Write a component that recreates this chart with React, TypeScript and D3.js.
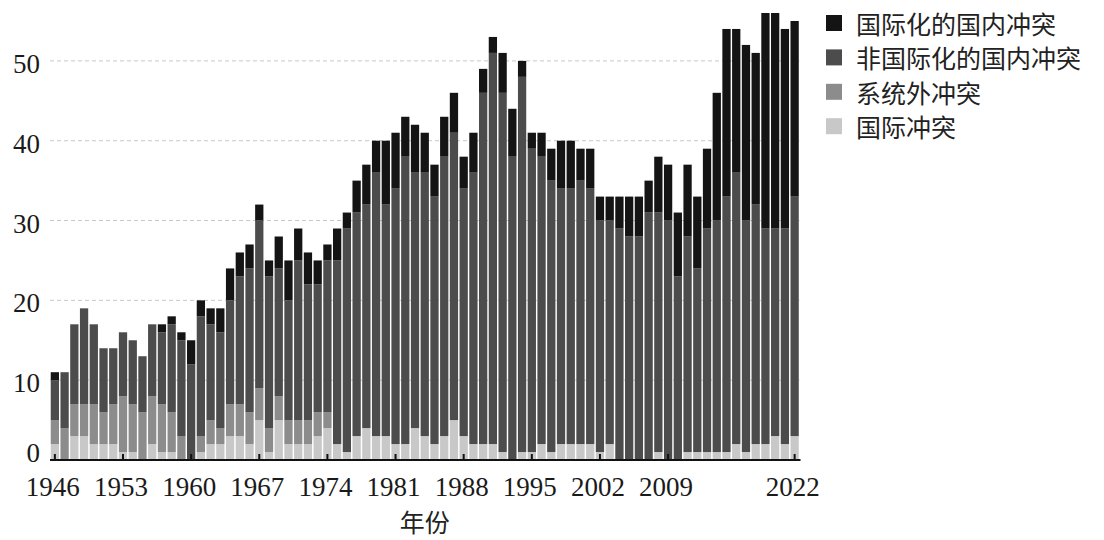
import React from "react";
import * as d3 from "d3";

const years: number[] = d3.range(1946, 2023);

// 国际冲突
const interstate: number[] = [
  2, 0, 3, 3, 2, 2, 2, 1, 1, 0, 2, 1, 1, 0, 0, 1, 2, 2, 3, 3,
  2, 5, 1, 5, 2, 2, 2, 3, 4, 2, 1, 3, 4, 3, 3, 2, 2, 4, 3, 2,
  3, 5, 3, 2, 2, 2, 1, 0, 1, 1, 2, 1, 2, 2, 2, 2, 1, 2, 0, 0,
  0, 0, 1, 0, 0, 1, 1, 1, 1, 1, 2, 1, 2, 2, 3, 2, 3,
];
// 系统外冲突
const extrasystemic: number[] = [
  3, 4, 4, 4, 5, 4, 5, 7, 6, 6, 6, 6, 5, 3, 0, 2, 3, 2, 4, 4,
  4, 4, 3, 3, 3, 3, 3, 3, 2, 0, 0, 0, 0, 0, 0, 0, 0, 0, 0, 0,
  0, 0, 0, 0, 0, 0, 0, 0, 0, 0, 0, 0, 0, 0, 0, 0, 0, 0, 0, 0,
  0, 0, 0, 0, 0, 0, 0, 0, 0, 0, 0, 0, 0, 0, 0, 0, 0,
];
// 非国际化的国内冲突
const internal: number[] = [
  5, 7, 10, 12, 10, 8, 7, 8, 8, 7, 9, 9, 11, 12, 12, 15, 12, 12, 13, 16,
  18, 21, 19, 16, 15, 20, 17, 16, 19, 23, 28, 28, 28, 33, 29, 32, 36, 32, 33, 31,
  35, 36, 31, 34, 44, 49, 45, 38, 47, 38, 36, 34, 32, 32, 33, 32, 29, 28, 29, 28,
  28, 31, 30, 30, 23, 27, 23, 28, 29, 32, 34, 29, 30, 27, 26, 27, 30,
];
// 国际化的国内冲突
const internationalized: number[] = [
  1, 0, 0, 0, 0, 0, 0, 0, 0, 0, 0, 1, 1, 1, 3, 2, 2, 3, 4, 3,
  3, 2, 2, 4, 5, 4, 4, 3, 2, 4, 2, 4, 5, 4, 8, 7, 5, 6, 5, 4,
  5, 5, 4, 5, 3, 2, 5, 6, 2, 2, 3, 4, 6, 6, 4, 5, 3, 3, 4, 5,
  5, 4, 7, 7, 8, 9, 9, 10, 16, 21, 18, 22, 19, 27, 27, 25, 22,
];

const seriesKeys = ["interstate", "extrasystemic", "internal", "internationalized"];
const seriesLabels: Record<string, string> = {
  internationalized: "国际化的国内冲突",
  internal: "非国际化的国内冲突",
  extrasystemic: "系统外冲突",
  interstate: "国际冲突",
};
const seriesColors: Record<string, string> = {
  internationalized: "#141414",
  internal: "#4c4c4c",
  extrasystemic: "#8c8c8c",
  interstate: "#c8c8c8",
};
const legendOrder = ["internationalized", "internal", "extrasystemic", "interstate"];

const yTicks: number[] = [0, 10, 20, 30, 40, 50];
const xTickYears: number[] = [1946, 1953, 1960, 1967, 1974, 1981, 1988, 1995, 2002, 2009, 2022];
const xTitle = "年份";

const serif = "'Liberation Serif', 'DejaVu Serif', serif";
const cjk = "'Noto Sans CJK SC', 'Noto Sans', sans-serif";

export default function App() {
  const width = 1104;
  const height = 540;
  const left = 50;
  const right = 799.5;
  const bottom = 460;
  const top = 13;

  const table = years.map((y, i) => ({
    year: y,
    interstate: interstate[i],
    extrasystemic: extrasystemic[i],
    internal: internal[i],
    internationalized: internationalized[i],
  }));

  const x = d3
    .scaleBand<number>()
    .domain(years)
    .range([left, right])
    .paddingInner(0.15)
    .paddingOuter(0.075);
  const y = d3.scaleLinear().domain([0, 56]).range([bottom, top]);

  const stacked = d3.stack<any>().keys(seriesKeys)(table);

  return (
    <svg
      width={width}
      height={height}
      style={{ position: "absolute", left: 0, top: 0, background: "#fff" }}
    >
      {yTicks
        .filter((t) => t > 0)
        .map((t) => (
          <line
            key={"g" + t}
            x1={left}
            x2={right}
            y1={y(t)}
            y2={y(t)}
            stroke="#c8c8c8"
            strokeWidth={1}
            strokeDasharray="4,3"
          />
        ))}
      {stacked.map((layer) => (
        <g key={layer.key} fill={seriesColors[layer.key]}>
          {layer.map((d, i) => {
            const h = y(d[0]) - y(d[1]);
            if (h <= 0) return null;
            return (
              <rect
                key={i}
                x={x(years[i])}
                y={y(d[1])}
                width={x.bandwidth()}
                height={h}
              />
            );
          })}
        </g>
      ))}
      <line x1={left} x2={right + 1} y1={bottom} y2={bottom} stroke="#111" strokeWidth={2} />
      {xTickYears.map((yr) => {
        const cx = (x(yr) as number) + x.bandwidth() / 2;
        return (
          <g key={"xt" + yr}>
            <line x1={cx} x2={cx} y1={bottom} y2={bottom - 6} stroke="#111" strokeWidth={2} />
            <text
              x={cx - 2}
              y={bottom + 36}
              textAnchor="middle"
              fontFamily={serif}
              fontSize={27}
              fill="#1a1a1a"
            >
              {yr}
            </text>
          </g>
        );
      })}
      {yTicks.map((t) => (
        <text
          key={"yt" + t}
          x={40}
          y={y(t) + (t === 0 ? -7 : 3)}
          textAnchor="end"
          dominantBaseline="central"
          fontFamily={serif}
          fontSize={27}
          fill="#1a1a1a"
        >
          {t}
        </text>
      ))}
      <text
        x={(left + right) / 2}
        y={532}
        textAnchor="middle"
        fontFamily={cjk}
        fontSize={25}
        fill="#222"
      >
        {xTitle}
      </text>
      {legendOrder.map((k, i) => {
        const cy = 23 + i * 34.4;
        return (
          <g key={"lg" + k}>
            <rect x={826} y={cy - 8} width={16} height={16} fill={seriesColors[k]} />
            <text
              x={856}
              y={cy}
              dominantBaseline="central"
              fontFamily={cjk}
              fontSize={25}
              fill="#222"
            >
              {seriesLabels[k]}
            </text>
          </g>
        );
      })}
    </svg>
  );
}
